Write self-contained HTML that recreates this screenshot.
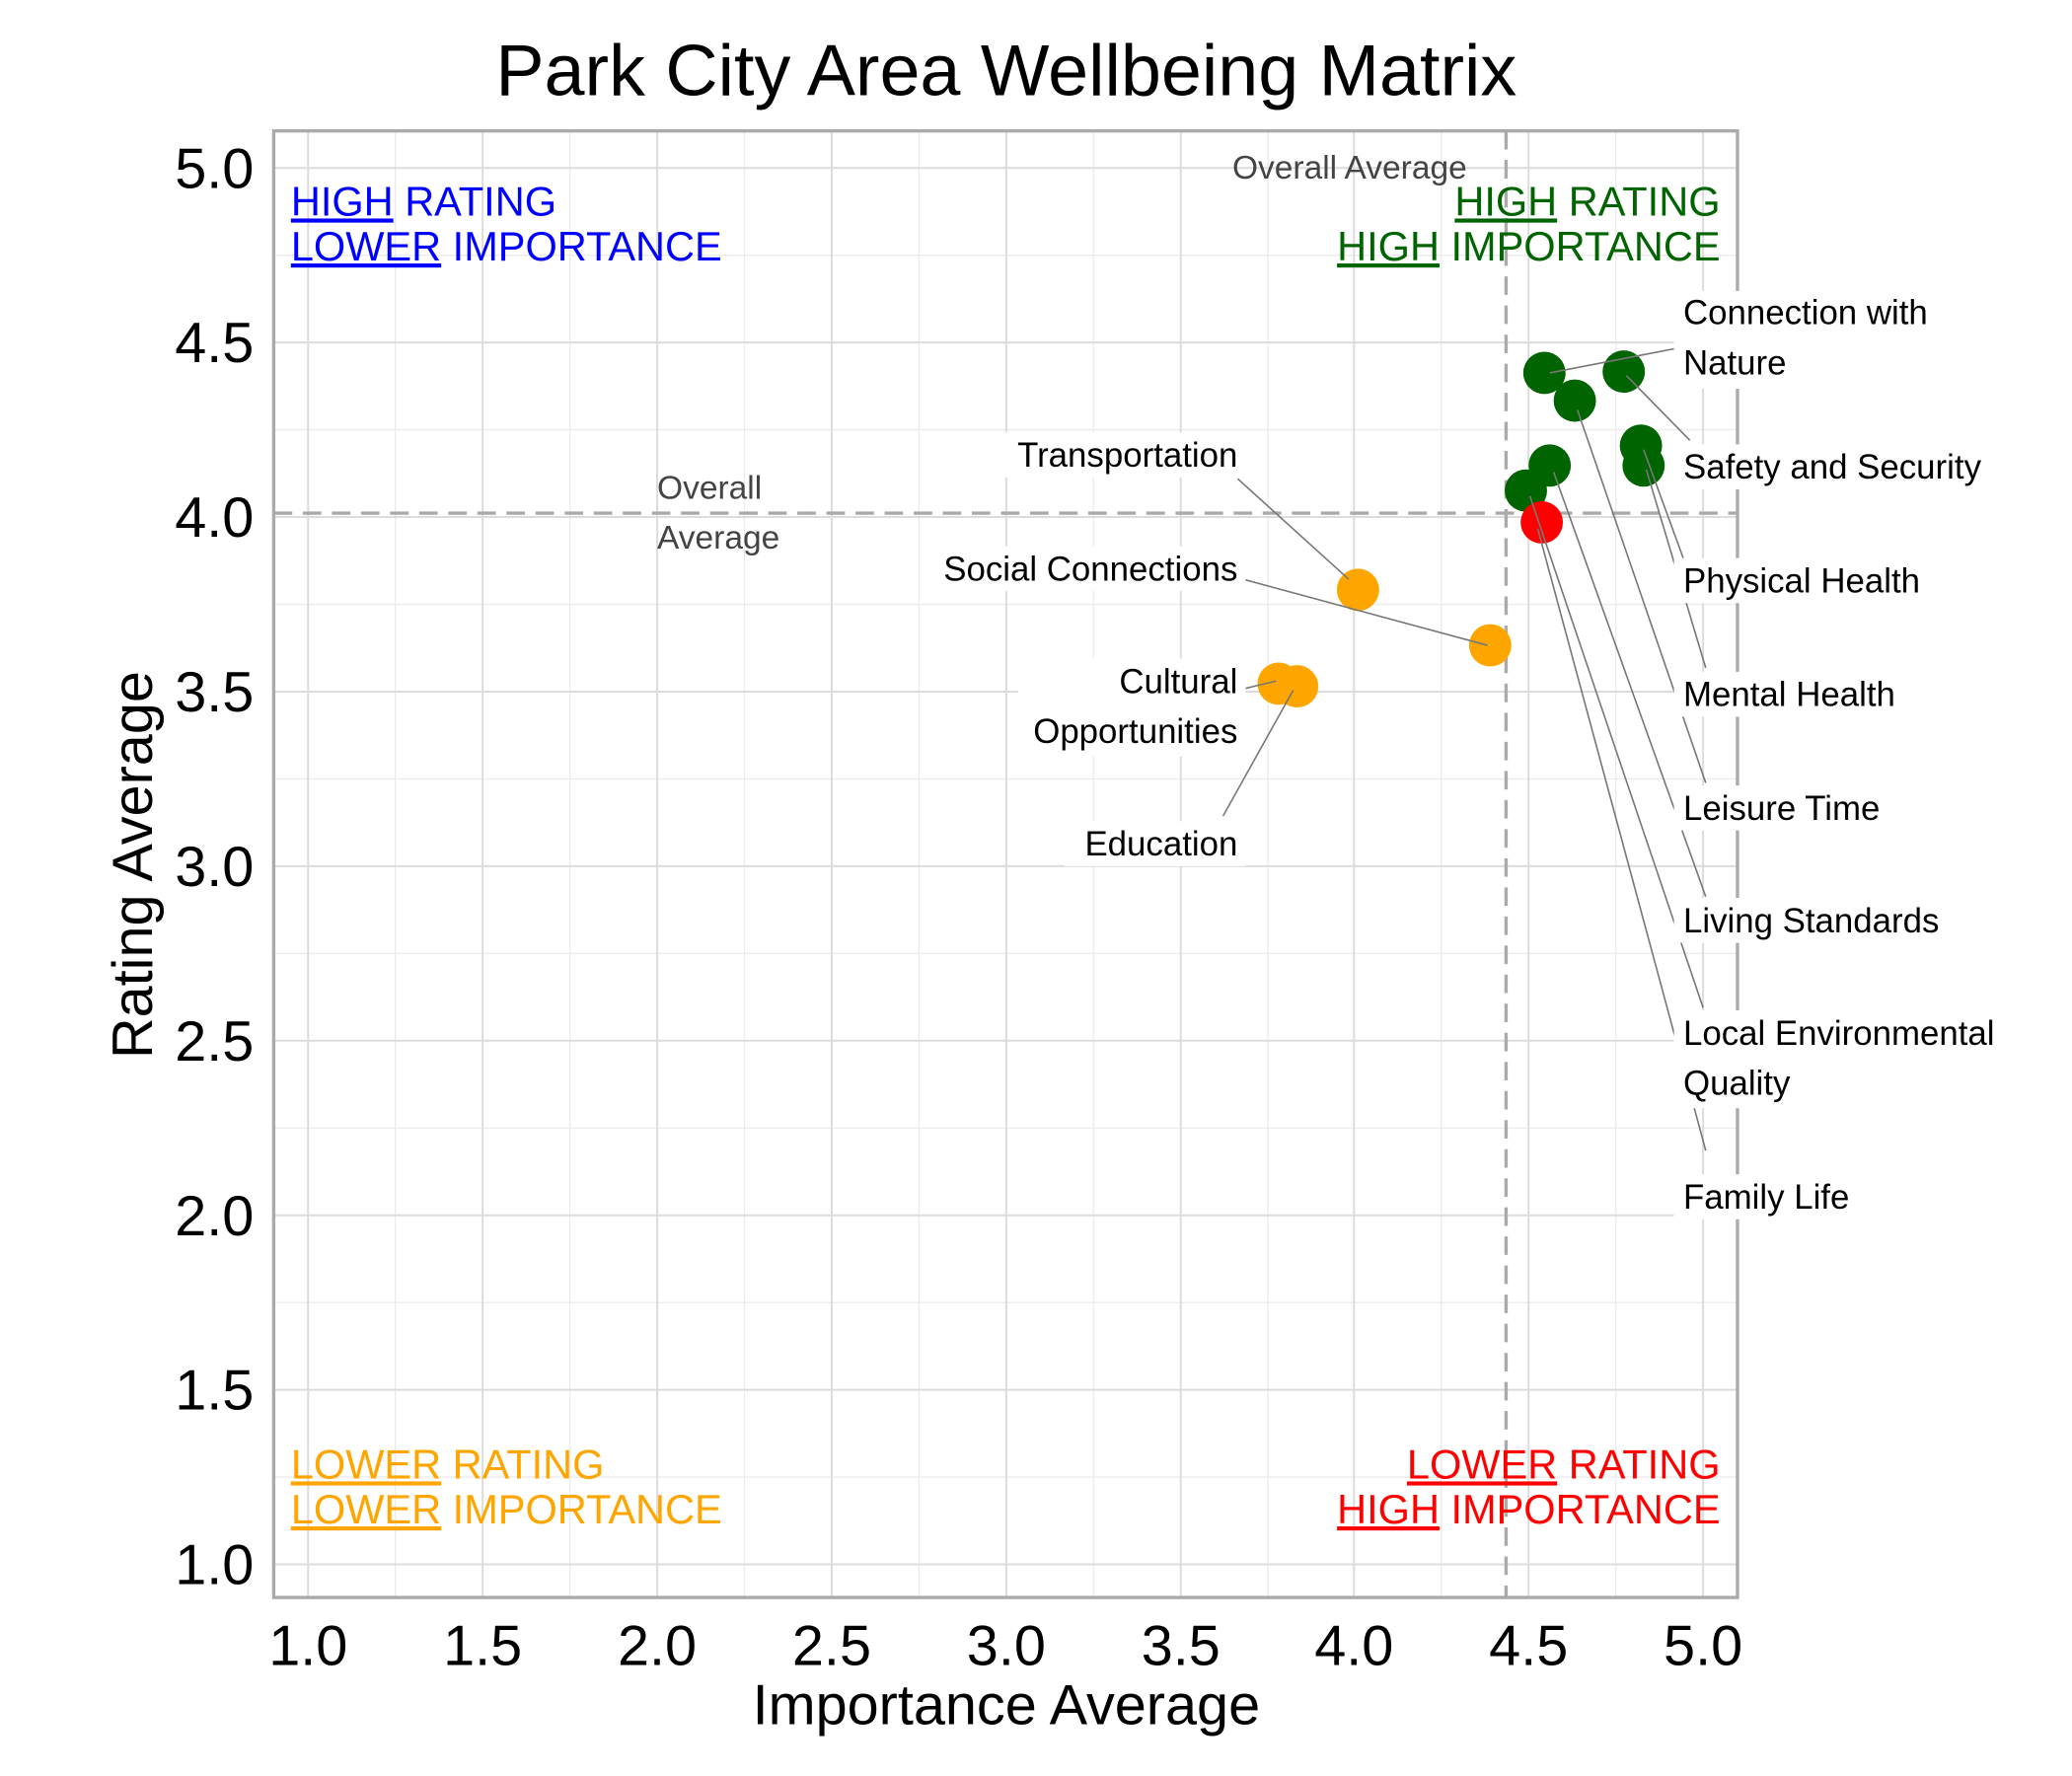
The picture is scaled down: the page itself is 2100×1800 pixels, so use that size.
<!DOCTYPE html>
<html><head><meta charset="utf-8"><style>html,body{margin:0;padding:0;background:#fff}svg{display:block}</style></head>
<body>
<svg width="2100" height="1800" viewBox="0 0 1567 1343" preserveAspectRatio="none" xmlns="http://www.w3.org/2000/svg" font-family="Liberation Sans, Arial, sans-serif">
<rect width="1567" height="1343" fill="#fff"/>
<g stroke="#ebebeb" stroke-width="1">
<line x1="299" y1="99" x2="299" y2="1208"/><line x1="431" y1="99" x2="431" y2="1208"/><line x1="563" y1="99" x2="563" y2="1208"/><line x1="695" y1="99" x2="695" y2="1208"/><line x1="827" y1="99" x2="827" y2="1208"/><line x1="959" y1="99" x2="959" y2="1208"/><line x1="1090" y1="99" x2="1090" y2="1208"/><line x1="1222" y1="99" x2="1222" y2="1208"/>
<line x1="207" y1="193" x2="1314" y2="193"/><line x1="207" y1="325" x2="1314" y2="325"/><line x1="207" y1="457" x2="1314" y2="457"/><line x1="207" y1="589" x2="1314" y2="589"/><line x1="207" y1="721" x2="1314" y2="721"/><line x1="207" y1="853" x2="1314" y2="853"/><line x1="207" y1="985" x2="1314" y2="985"/><line x1="207" y1="1117" x2="1314" y2="1117"/>
</g>
<g stroke="#dcdcdc" stroke-width="1.5">
<line x1="233" y1="99" x2="233" y2="1208"/><line x1="365" y1="99" x2="365" y2="1208"/><line x1="497" y1="99" x2="497" y2="1208"/><line x1="629" y1="99" x2="629" y2="1208"/><line x1="761" y1="99" x2="761" y2="1208"/><line x1="893" y1="99" x2="893" y2="1208"/><line x1="1024" y1="99" x2="1024" y2="1208"/><line x1="1156" y1="99" x2="1156" y2="1208"/><line x1="1288" y1="99" x2="1288" y2="1208"/>
<line x1="207" y1="127" x2="1314" y2="127"/><line x1="207" y1="259" x2="1314" y2="259"/><line x1="207" y1="391" x2="1314" y2="391"/><line x1="207" y1="523" x2="1314" y2="523"/><line x1="207" y1="655" x2="1314" y2="655"/><line x1="207" y1="787" x2="1314" y2="787"/><line x1="207" y1="919" x2="1314" y2="919"/><line x1="207" y1="1051" x2="1314" y2="1051"/><line x1="207" y1="1183" x2="1314" y2="1183"/>
</g>
<rect x="207" y="99" width="1107" height="1109" fill="none" stroke="#aaa" stroke-width="2.5"/>
<g stroke="#aaa" stroke-width="2.5" stroke-dasharray="14,8">
<line x1="1139" y1="99" x2="1139" y2="1208"/><line x1="207" y1="388" x2="1314" y2="388"/>
</g>
<g font-size="25" fill="#444">
<text x="932" y="135">Overall Average</text>
<text x="497" y="377">Overall</text><text x="497" y="415">Average</text>
</g>
<g font-size="31">
<text x="220" y="163" fill="#0000ff"><tspan text-decoration="underline">HIGH</tspan> RATING</text>
<text x="220" y="197" fill="#0000ff"><tspan text-decoration="underline">LOWER</tspan> IMPORTANCE</text>
<text x="1301" y="163" fill="#006400" text-anchor="end"><tspan text-decoration="underline">HIGH</tspan> RATING</text>
<text x="1301" y="197" fill="#006400" text-anchor="end"><tspan text-decoration="underline">HIGH</tspan> IMPORTANCE</text>
<text x="220" y="1118" fill="#ffa500"><tspan text-decoration="underline">LOWER</tspan> RATING</text>
<text x="220" y="1152" fill="#ffa500"><tspan text-decoration="underline">LOWER</tspan> IMPORTANCE</text>
<text x="1301" y="1118" fill="#ff0000" text-anchor="end"><tspan text-decoration="underline">LOWER</tspan> RATING</text>
<text x="1301" y="1152" fill="#ff0000" text-anchor="end"><tspan text-decoration="underline">HIGH</tspan> IMPORTANCE</text>
</g>
<g fill="#006400">
<circle cx="1168" cy="282" r="16"/><circle cx="1228" cy="281" r="16"/><circle cx="1191" cy="303" r="16"/><circle cx="1241" cy="337" r="16"/><circle cx="1243" cy="352" r="16"/><circle cx="1154" cy="371" r="16"/><circle cx="1172" cy="352" r="16"/>
</g>
<circle cx="1166" cy="395" r="16" fill="#ff0000"/>
<g fill="#ffa500">
<circle cx="1027" cy="446" r="16"/><circle cx="1127" cy="488" r="16"/><circle cx="967" cy="517" r="16"/><circle cx="981" cy="519" r="16"/>
</g>
<g stroke="#777" stroke-width="1.2" fill="none">
<line x1="1172" y1="282" x2="1270" y2="263"/>
<line x1="1230" y1="284" x2="1278" y2="333"/>
<line x1="1243" y1="340" x2="1273" y2="422"/>
<line x1="1245" y1="355" x2="1290" y2="505"/>
<line x1="1193" y1="310" x2="1290" y2="592"/>
<line x1="1175" y1="357" x2="1290" y2="678"/>
<line x1="1157" y1="375" x2="1288" y2="762"/>
<line x1="1163" y1="400" x2="1290" y2="870"/>
<line x1="936" y1="362" x2="1020" y2="438"/>
<line x1="940" y1="438" x2="1125" y2="488"/>
<line x1="940" y1="521" x2="965" y2="515"/>
<line x1="925" y1="617" x2="978" y2="522"/>
</g>
<g font-size="26" fill="#000">
<rect x="1266" y="220" width="250" height="74" fill="#fff"/>
<text x="1273" y="245">Connection with</text><text x="1273" y="283">Nature</text>
<rect x="1266" y="336" width="290" height="34" fill="#fff"/><text x="1273" y="362">Safety and Security</text>
<rect x="1266" y="422" width="240" height="34" fill="#fff"/><text x="1273" y="448">Physical Health</text>
<rect x="1266" y="508" width="220" height="34" fill="#fff"/><text x="1273" y="534">Mental Health</text>
<rect x="1266" y="594" width="200" height="34" fill="#fff"/><text x="1273" y="620">Leisure Time</text>
<rect x="1266" y="679" width="250" height="34" fill="#fff"/><text x="1273" y="705">Living Standards</text>
<rect x="1266" y="764" width="300" height="74" fill="#fff"/>
<text x="1273" y="790">Local Environmental</text><text x="1273" y="828">Quality</text>
<rect x="1266" y="888" width="170" height="34" fill="#fff"/><text x="1273" y="914">Family Life</text>
<g text-anchor="end">
<rect x="760" y="327" width="182" height="34" fill="#fff"/><text x="936" y="353">Transportation</text>
<rect x="700" y="413" width="242" height="34" fill="#fff"/><text x="936" y="439">Social Connections</text>
<rect x="770" y="498" width="172" height="74" fill="#fff"/>
<text x="936" y="524">Cultural</text><text x="936" y="562">Opportunities</text>
<rect x="805" y="621" width="137" height="34" fill="#fff"/><text x="936" y="647">Education</text>
</g>
</g>
<g font-size="43" fill="#000" text-anchor="middle">
<text x="233" y="1259">1.0</text><text x="365" y="1259">1.5</text><text x="497" y="1259">2.0</text><text x="629" y="1259">2.5</text><text x="761" y="1259">3.0</text><text x="893" y="1259">3.5</text><text x="1024" y="1259">4.0</text><text x="1156" y="1259">4.5</text><text x="1288" y="1259">5.0</text>
</g>
<g font-size="43" fill="#000" text-anchor="end">
<text x="192" y="142">5.0</text><text x="192" y="274">4.5</text><text x="192" y="406">4.0</text><text x="192" y="538">3.5</text><text x="192" y="670">3.0</text><text x="192" y="802">2.5</text><text x="192" y="934">2.0</text><text x="192" y="1066">1.5</text><text x="192" y="1198">1.0</text>
</g>
<text x="761" y="1304" font-size="43" text-anchor="middle">Importance Average</text>
<text transform="translate(115,654) rotate(-90)" font-size="43" text-anchor="middle">Rating Average</text>
<text x="761" y="72" font-size="55" text-anchor="middle">Park City Area Wellbeing Matrix</text>
</svg>
</body></html>
